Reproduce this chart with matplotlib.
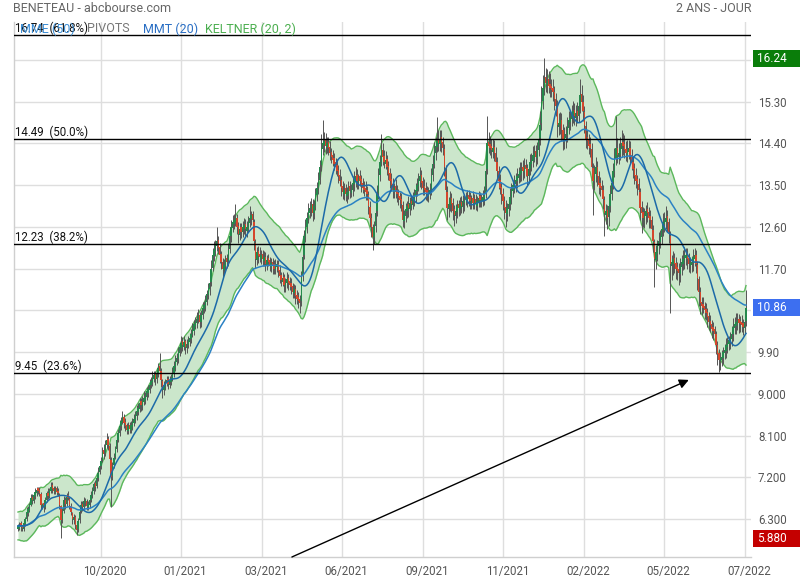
import numpy as np
import pandas as pd
import matplotlib
matplotlib.use("Agg")
import matplotlib.pyplot as plt
from matplotlib.patches import Rectangle
from matplotlib.transforms import blended_transform_factory, ScaledTranslation

plt.rcParams['font.family'] = ['Roboto', 'DejaVu Sans']

# ---------------- data ----------------
title = "BENETEAU - abcbourse.com"
period_label = "2 ANS - JOUR"

closes = [
    6.15, 6.18, 6.12, 6.10, 6.22, 6.30, 6.45, 6.52, 6.60, 6.75,
    6.70, 6.82, 6.88, 6.93, 6.90, 6.85, 6.60, 6.62, 6.56, 6.70,
    6.85, 6.80, 6.92, 7.00, 6.95, 6.90, 6.94, 6.88, 6.85, 6.60,
    6.28, 6.45, 6.70, 6.62, 6.78, 6.75, 6.60, 6.45, 6.30, 6.35,
    6.18, 6.06, 6.25, 6.45, 6.60, 6.55, 6.68, 6.70, 6.58, 6.62,
    6.70, 6.82, 6.90, 7.05, 7.00, 7.18, 7.30, 7.45, 7.55, 7.75,
    7.70, 7.90, 8.00, 7.90, 7.60, 7.20, 7.45, 7.62, 7.80, 8.00,
    8.15, 8.30, 8.42, 8.50, 8.38, 8.30, 8.22, 8.30, 8.25, 8.32,
    8.40, 8.45, 8.55, 8.62, 8.70, 8.80, 8.75, 8.85, 8.90, 8.95,
    9.05, 9.10, 9.20, 9.28, 9.35, 9.40, 9.32, 9.45, 9.55, 9.50,
    9.30, 9.10, 9.18, 9.25, 9.30, 9.22, 9.28, 9.35, 9.45, 9.60,
    9.70, 9.78, 9.90, 10.00, 10.10, 10.05, 10.12, 10.00, 10.08, 10.15,
    10.20, 10.30, 10.38, 10.50, 10.55, 10.62, 10.70, 10.55, 10.70, 10.85,
    10.92, 11.00, 11.15, 11.28, 11.40, 11.70, 12.00, 12.10, 12.20, 12.30,
    12.15, 12.00, 11.85, 11.70, 11.78, 11.90, 11.85, 12.10, 12.40, 12.60,
    12.70, 12.75, 12.80, 12.60, 12.45, 12.55, 12.50, 12.60, 12.65, 12.55,
    12.60, 12.70, 12.80, 12.85, 12.75, 12.30, 11.90, 12.05, 11.98, 11.95,
    12.00, 11.90, 11.95, 11.80, 11.88, 11.85, 11.78, 11.82, 11.75, 11.70,
    11.78, 11.80, 11.65, 11.55, 11.45, 11.50, 11.35, 11.40, 11.48, 11.38,
    11.35, 11.30, 11.20, 11.25, 11.10, 11.05, 11.00, 10.95, 11.50, 11.95,
    12.40, 12.60, 12.80, 12.95, 13.00, 13.10, 12.90, 13.05, 13.30, 13.45,
    13.60, 13.90, 14.30, 14.40, 14.45, 14.35, 14.42, 14.30, 14.20, 14.10,
    14.05, 13.95, 13.90, 13.80, 13.70, 13.60, 13.45, 13.35, 13.40, 13.30,
    13.35, 13.45, 13.38, 13.40, 13.55, 13.62, 13.70, 13.60, 13.65, 13.60,
    13.50, 13.45, 13.40, 13.35, 13.30, 13.05, 12.80, 12.60, 12.38, 12.60,
    12.90, 13.30, 13.70, 14.00, 14.25, 14.10, 14.00, 14.05, 13.90, 13.75,
    13.60, 13.50, 13.40, 13.45, 13.35, 13.30, 13.22, 13.18, 13.10, 12.75,
    12.85, 12.98, 13.05, 13.00, 13.12, 13.10, 13.20, 13.30, 13.40, 13.50,
    13.62, 13.70, 13.55, 13.45, 13.40, 13.35, 13.30, 13.35, 13.40, 13.70,
    13.95, 14.20, 14.35, 14.45, 14.40, 14.50, 14.40, 14.30, 13.90, 13.40,
    13.00, 13.10, 13.20, 13.10, 12.95, 12.85, 12.95, 13.05, 13.00, 13.10,
    13.05, 13.15, 13.20, 13.18, 13.25, 13.20, 13.15, 13.20, 13.12, 13.18,
    13.10, 13.15, 13.22, 13.18, 13.20, 13.25, 13.30, 13.80, 14.40, 14.35,
    14.30, 14.25, 14.30, 14.20, 14.00, 13.80, 13.60, 13.45, 13.30, 13.15,
    13.00, 12.90, 13.00, 13.10, 13.25, 13.40, 13.50, 13.55, 13.62, 13.70,
    13.75, 13.80, 13.85, 13.80, 13.90, 13.85, 13.70, 13.85, 14.00, 14.05,
    14.15, 14.20, 14.10, 14.25, 14.50, 14.80, 15.30, 15.60, 15.80, 15.70,
    15.75, 15.65, 15.60, 15.55, 15.50, 15.35, 15.20, 14.80, 14.85, 14.90,
    14.70, 14.50, 14.55, 14.60, 14.75, 14.90, 14.95, 15.05, 15.10, 15.00,
    15.05, 15.00, 15.20, 15.45, 15.30, 15.10, 14.80, 14.50, 14.45, 14.35,
    14.30, 13.90, 13.60, 13.75, 13.90, 13.70, 13.50, 13.45, 13.40, 13.20,
    12.90, 12.95, 12.80, 13.05, 13.30, 13.55, 13.80, 14.05, 14.30, 14.15,
    14.20, 14.30, 14.40, 14.35, 14.25, 14.20, 14.25, 14.30, 14.15, 14.00,
    13.85, 13.70, 13.60, 13.50, 13.40, 13.00, 12.90, 12.80, 12.85, 12.95,
    12.90, 12.80, 12.75, 12.55, 12.30, 11.90, 12.05, 12.20, 12.30, 12.40,
    12.55, 12.70, 12.75, 12.80, 12.70, 12.50, 11.80, 11.85, 11.90, 11.80,
    11.70, 11.65, 11.60, 11.75, 11.85, 11.90, 12.00, 12.00, 11.90, 11.80,
    11.82, 11.85, 11.95, 12.00, 11.80, 11.50, 11.20, 10.95, 10.90, 10.85,
    10.80, 10.75, 10.65, 10.55, 10.48, 10.40, 10.35, 10.30, 10.05, 9.85,
    9.73, 9.78, 9.80, 9.90, 9.95, 10.05, 10.10, 10.15, 10.20, 10.30,
    10.45, 10.50, 10.55, 10.60, 10.52, 10.50, 10.48, 10.45, 10.55, 10.86,
]
# candle body = close - open, in cents (positive: green candle, negative: red)
body_cents = [
    6, 8, -9, -5, 14, 10, 16, 9, 11, 15,
    -8, 13, 9, 7, -6, -8, -24, 5, -9, 14,
    14, -7, 12, 10, -8, -7, 6, -8, -6, -22,
    -30, 16, 22, -10, 15, -6, -14, -14, -13, 8,
    -16, -10, 17, 18, 13, -8, 12, 5, -11, 7,
    10, 12, 9, 14, -8, 16, 12, 14, 10, 18,
    -9, 18, 11, -12, -28, -38, 22, 15, 16, 18,
    14, 15, 12, 10, -13, -10, -10, 10, -8, 9,
    11, 8, 12, 9, 10, 12, -9, 12, 8, 9,
    12, 8, 12, 10, 9, 8, -11, 14, 12, -9,
    -19, -18, 10, 9, 7, -10, 8, 9, 12, 15,
    12, 10, 14, 12, 12, -9, 10, -13, 10, 9,
    8, 12, 10, 14, 8, 10, 11, -16, 15, 16,
    10, 11, 16, 14, 14, 28, 28, 12, 12, 12,
    -17, -16, -16, -15, 10, 14, -8, 24, 28, 20,
    12, 8, 9, -20, -16, 12, -9, 12, 9, -12,
    9, 12, 12, 8, -12, -40, -36, 16, -10, -7,
    9, -12, 9, -16, 10, -7, -10, 8, -10, -9,
    10, 6, -16, -12, -12, 8, -16, 8, 10, -12,
    -8, -9, -12, 8, -16, -9, -9, -10, 50, 40,
    40, 20, 20, 16, 9, 12, -20, 15, 24, 16,
    16, 28, 36, 12, 9, -13, 10, -14, -13, -12,
    -10, -13, -9, -13, -13, -12, -17, -13, 9, -13,
    9, 13, -10, 6, 16, 10, 11, -13, 9, -9,
    -13, -9, -9, -9, -9, -24, -24, -20, -22, 22,
    28, 36, 36, 28, 24, -16, -13, 9, -16, -16,
    -16, -13, -13, 9, -13, -9, -11, -8, -11, -32,
    13, 15, 10, -9, 14, -6, 12, 12, 13, 12,
    14, 11, -16, -13, -9, -9, -9, 9, 9, 28,
    24, 24, 16, 12, -9, 12, -13, -13, -38, -46,
    -36, 12, 12, -13, -16, -13, 12, 12, -9, 12,
    -9, 12, 9, -6, 10, -9, -9, 9, -11, 9,
    -11, 9, 10, -8, 6, 9, 9, 46, 55, -9,
    -9, -9, 9, -13, -20, -20, -20, -16, -16, -16,
    -16, -13, 12, 12, 16, 16, 12, 9, 10, 11,
    9, 9, 9, -9, 12, -9, -16, 16, 16, 9,
    12, 9, -13, 16, 24, 28, 46, 28, 20, -13,
    9, -13, -9, -9, -9, -16, -16, -38, 9, 9,
    -20, -20, 9, 9, 16, 16, 9, 12, 9, -13,
    9, -9, 20, 24, -16, -20, -28, -28, -9, -13,
    -9, -38, -28, 16, 16, -20, -20, -9, -9, -20,
    -28, 9, -16, 24, 24, 24, 24, 24, 24, -16,
    9, 12, 12, -9, -13, -9, 9, 9, -16, -16,
    -16, -16, -13, -13, -13, -36, -13, -13, 9, 12,
    -9, -13, -9, -20, -24, -38, 16, 16, 12, 12,
    16, 16, 9, 9, -13, -20, -60, 9, 9, -13,
    -13, -9, -9, 16, 12, 9, 12, 6, -13, -13,
    6, 8, 12, 9, -20, -28, -28, -24, -9, -9,
    -9, -9, -12, -12, -10, -11, -9, -9, -24, -20,
    -14, 8, 6, 12, 8, 12, 8, 8, 8, 12,
    15, 8, 8, 8, -10, -6, -6, -7, 12, 30,
]
# wick lengths above max(open, close) and below min(open, close), in cents
upper_wick_cents = [
    4, 6, 5, 3, 8, 5, 10, 6, 4, 8,
    5, 7, 9, 6, 4, 6, 5, 3, 4, 8,
    6, 9, 5, 10, 6, 4, 7, 5, 6, 4,
    3, 8, 9, 5, 7, 10, 4, 5, 3, 6,
    4, 5, 7, 6, 8, 5, 9, 6, 4, 7,
    6, 8, 10, 5, 7, 9, 12, 6, 8, 10,
    12, 10, 15, 8, 6, 5, 8, 10, 7, 12,
    10, 14, 9, 12, 6, 8, 5, 9, 7, 10,
    8, 12, 9, 14, 10, 12, 8, 11, 15, 9,
    10, 8, 12, 9, 14, 10, 6, 11, 12, 29,
    6, 5, 10, 8, 9, 6, 10, 8, 12, 10,
    14, 9, 12, 10, 15, 8, 12, 6, 10, 9,
    12, 10, 14, 9, 11, 15, 12, 5, 10, 12,
    9, 14, 10, 12, 15, 18, 14, 20, 12, 30,
    8, 10, 6, 9, 12, 10, 8, 15, 18, 14,
    16, 12, 30, 8, 10, 14, 9, 12, 15, 10,
    12, 14, 25, 10, 8, 6, 9, 12, 10, 14,
    10, 8, 12, 9, 11, 10, 8, 12, 9, 10,
    12, 9, 8, 10, 6, 12, 8, 10, 14, 9,
    8, 10, 7, 12, 8, 9, 10, 8, 15, 20,
    14, 18, 12, 16, 15, 12, 10, 14, 15, 12,
    18, 15, 30, 50, 20, 15, 12, 10, 12, 8,
    10, 12, 9, 14, 10, 12, 8, 10, 15, 9,
    12, 14, 10, 12, 15, 18, 20, 12, 10, 14,
    10, 12, 9, 14, 10, 8, 12, 10, 6, 12,
    15, 20, 18, 16, 35, 14, 12, 18, 10, 12,
    10, 14, 12, 10, 16, 12, 8, 10, 12, 9,
    12, 14, 10, 18, 12, 10, 15, 12, 14, 16,
    14, 20, 12, 10, 14, 12, 10, 12, 15, 18,
    20, 24, 18, 52, 20, 18, 15, 12, 10, 8,
    12, 15, 18, 10, 12, 9, 14, 12, 10, 15,
    12, 14, 10, 12, 15, 10, 12, 9, 14, 12,
    10, 12, 15, 10, 12, 14, 18, 20, 60, 20,
    18, 15, 20, 14, 12, 10, 12, 14, 10, 12,
    10, 15, 12, 14, 18, 15, 12, 16, 14, 18,
    15, 20, 14, 16, 18, 12, 10, 14, 18, 15,
    20, 16, 14, 18, 25, 30, 35, 28, 44, 20,
    25, 18, 22, 15, 20, 14, 12, 15, 20, 18,
    15, 12, 20, 18, 22, 20, 16, 18, 22, 15,
    18, 20, 24, 35, 20, 15, 12, 10, 14, 12,
    15, 12, 10, 18, 20, 12, 10, 14, 12, 10,
    8, 14, 12, 18, 20, 22, 18, 25, 70, 20,
    22, 25, 30, 18, 20, 16, 22, 18, 14, 12,
    10, 12, 14, 10, 12, 8, 12, 10, 15, 12,
    14, 10, 12, 8, 10, 6, 15, 12, 18, 14,
    16, 20, 18, 25, 14, 10, 12, 15, 18, 10,
    12, 10, 14, 18, 15, 20, 16, 14, 12, 10,
    14, 12, 18, 15, 10, 8, 6, 12, 10, 14,
    10, 12, 8, 10, 12, 9, 10, 8, 6, 8,
    10, 12, 14, 10, 12, 15, 12, 10, 14, 16,
    18, 15, 20, 14, 10, 12, 15, 10, 18, 38,
]
lower_wick_cents = [
    5, 4, 8, 6, 3, 5, 4, 6, 5, 3,
    8, 4, 5, 6, 7, 5, 8, 6, 10, 4,
    5, 6, 4, 5, 8, 6, 4, 7, 5, 8,
    40, 8, 5, 10, 6, 4, 8, 6, 10, 7,
    9, 11, 6, 5, 4, 8, 5, 6, 9, 5,
    6, 4, 5, 8, 10, 5, 6, 4, 7, 5,
    10, 6, 5, 12, 10, 65, 8, 6, 5, 7,
    6, 5, 8, 6, 12, 10, 8, 6, 10, 7,
    8, 6, 5, 9, 6, 8, 12, 7, 6, 8,
    6, 8, 7, 5, 9, 6, 12, 8, 6, 10,
    15, 20, 10, 8, 6, 12, 8, 7, 6, 9,
    8, 6, 10, 7, 9, 12, 8, 14, 10, 7,
    9, 8, 6, 10, 8, 9, 7, 14, 10, 8,
    8, 10, 7, 9, 12, 10, 8, 12, 10, 9,
    14, 18, 16, 20, 12, 10, 14, 10, 8, 12,
    10, 12, 8, 16, 20, 12, 14, 10, 12, 15,
    12, 10, 8, 12, 14, 20, 18, 12, 15, 10,
    12, 14, 10, 15, 12, 10, 14, 12, 16, 12,
    10, 12, 14, 16, 12, 10, 15, 12, 10, 14,
    12, 15, 14, 10, 16, 12, 14, 21, 10, 12,
    10, 12, 14, 10, 12, 15, 18, 12, 10, 14,
    12, 10, 14, 12, 15, 18, 12, 14, 16, 12,
    14, 12, 15, 10, 16, 12, 18, 14, 12, 15,
    14, 12, 16, 10, 12, 14, 12, 18, 14, 12,
    15, 12, 14, 16, 12, 18, 20, 22, 28, 14,
    12, 10, 14, 12, 10, 16, 14, 12, 18, 14,
    16, 12, 18, 14, 12, 16, 14, 18, 15, 15,
    14, 12, 16, 18, 12, 14, 10, 12, 14, 12,
    10, 12, 14, 16, 12, 18, 14, 12, 10, 14,
    12, 10, 14, 12, 16, 14, 18, 15, 20, 24,
    25, 16, 14, 18, 20, 22, 15, 14, 16, 12,
    14, 12, 16, 10, 12, 14, 16, 12, 14, 10,
    14, 12, 10, 15, 12, 10, 14, 12, 10, 16,
    14, 16, 12, 18, 14, 16, 18, 15, 20, 18,
    22, 30, 16, 14, 12, 15, 14, 12, 16, 14,
    12, 14, 16, 18, 12, 15, 20, 14, 12, 16,
    14, 12, 18, 14, 12, 15, 14, 18, 16, 20,
    18, 16, 20, 15, 18, 22, 20, 25, 18, 20,
    22, 25, 18, 20, 16, 14, 18, 15, 16, 20,
    18, 16, 14, 15, 20, 22, 18, 20, 16, 18,
    20, 25, 75, 20, 18, 22, 20, 18, 16, 22,
    50, 20, 25, 18, 14, 12, 15, 14, 12, 18,
    16, 14, 18, 20, 16, 18, 15, 14, 20, 18,
    20, 18, 16, 22, 20, 25, 43, 20, 18, 16,
    20, 22, 18, 20, 25, 60, 20, 18, 16, 14,
    16, 14, 18, 16, 20, 25, 106, 30, 25, 20,
    22, 20, 25, 18, 16, 14, 18, 16, 20, 18,
    16, 14, 18, 16, 20, 25, 30, 22, 20, 11,
    18, 15, 20, 18, 15, 20, 18, 16, 20, 22,
    26, 18, 15, 14, 12, 16, 14, 12, 15, 14,
    16, 14, 18, 15, 20, 16, 14, 18, 12, 10,
]

fib_levels = [16.74, 14.49, 12.23, 9.45]
fib_pcts = ["61.8%", "50.0%", "38.2%", "23.6%"]

x_tick_labels = ["10/2020", "01/2021", "03/2021", "06/2021", "09/2021",
                 "11/2021", "02/2022", "05/2022", "07/2022"]
y_tick_values = [6.3, 7.2, 8.1, 9.0, 9.9, 10.8, 11.7, 12.6, 13.5, 14.4, 15.3, 16.2]
y_tick_labels = ["6.300", "7.200", "8.100", "9.000", "9.90", "", "11.70",
                 "12.60", "13.50", "14.40", "15.30", ""]

legend_items = [("MME (50)", "#3d8fd6"), ("PIVOTS", "#777777"),
                ("MMT (20)", "#2a6fc4"), ("KELTNER (20, 2)", "#4caf50")]

# trend arrow drawn on the chart (data coords: candle index, price)
arrow_start = (191.5, 5.48)
arrow_end = (469.0, 9.30)

# ---------------- computations ----------------
n = min(len(closes), len(body_cents), len(upper_wick_cents), len(lower_wick_cents))
c = np.array(closes[:n], dtype=float)
o = c - np.array(body_cents[:n]) / 100.0
h = np.maximum(o, c) + np.array(upper_wick_cents[:n]) / 100.0
l = np.minimum(o, c) - np.array(lower_wick_cents[:n]) / 100.0
x = np.arange(n)

cs = pd.Series(c)
prev_c = pd.Series(np.concatenate([[o[0]], c[:-1]]))
tr = np.maximum(h - l, np.maximum(np.abs(h - prev_c), np.abs(l - prev_c)))
ema20 = cs.ewm(span=20, adjust=False).mean()
atr20 = pd.Series(tr).ewm(span=20, adjust=False).mean()
kc_up = ema20 + 2 * atr20
kc_lo = ema20 - 2 * atr20
mme50 = cs.ewm(span=50, adjust=False).mean()
mmt20 = cs.rolling(10, min_periods=1).mean().rolling(11, min_periods=1).mean()

# ---------------- figure ----------------
W, H = 800, 580
fig = plt.figure(figsize=(W / 100, H / 100), dpi=100)
ax_l, ax_r, ax_t, ax_b = 14, 751, 22, 557
ax = fig.add_axes([ax_l / W, 1 - ax_b / H, (ax_r - ax_l) / W, (ax_b - ax_t) / H])

px_per_idx = 728 / 509.0
ax.set_xlim(-(18 - ax_l) / px_per_idx, (ax_r - 18) / px_per_idx)
ax.set_ylim(5.48, 17.02)

# keltner
ax.fill_between(x, kc_lo, kc_up, color="#cbe6cb", zorder=1, lw=0)
ax.plot(x, kc_up, color="#5cb85c", lw=1.0, zorder=1.5)
ax.plot(x, kc_lo, color="#5cb85c", lw=1.0, zorder=1.5)

# candles
up = c >= o
ax.vlines(x, l, h, color="#555555", lw=0.7, zorder=2)
body_h = np.where(np.abs(c - o) < 0.015, 0.015, np.abs(c - o))
ax.bar(x[up], body_h[up], bottom=np.minimum(o, c)[up], width=0.95,
       color="#24894c", lw=0, zorder=3)
ax.bar(x[~up], body_h[~up], bottom=np.minimum(o, c)[~up], width=0.95,
       color="#d4472c", lw=0, zorder=3)

# moving averages
ax.plot(x, mme50, color="#2b82c4", lw=1.1, zorder=4)
ax.plot(x, mmt20, color="#1c6aa8", lw=1.1, zorder=4)

# fibonacci levels
for lev, pct in zip(fib_levels, fib_pcts):
    ax.axhline(lev, color="black", lw=1.0, zorder=5)
    ax.text(1 / (ax_r - ax_l), lev, f"{lev:.2f}  ({pct})", transform=ax.get_yaxis_transform(),
            ha="left", va="bottom", fontsize=8.3, color="#111111", zorder=6)

# arrow
ax.annotate("", xy=arrow_end, xytext=arrow_start,
            arrowprops=dict(arrowstyle="-|>", color="black", lw=1.0, mutation_scale=14,
                            shrinkA=0, shrinkB=0), zorder=6, annotation_clip=False)

# axes styling
tick_pos = 57.7 + 56.32 * np.arange(len(x_tick_labels))
ax.set_xticks(tick_pos)
ax.set_xticklabels(x_tick_labels)
ax.set_yticks(y_tick_values)
ax.set_yticklabels(y_tick_labels)
ax.yaxis.tick_right()
ax.tick_params(axis="both", length=0, labelsize=8.3, labelcolor="#555555")
ax.tick_params(axis="y", pad=5)
ax.tick_params(axis="x", pad=6)
for lab in ax.get_xticklabels():
    lab.set_transform(lab.get_transform() + ScaledTranslation(4 / 100, 0, fig.dpi_scale_trans))
ax.grid(True, color="#dedede", lw=1.0)
ax.set_axisbelow(True)
for s in ["top", "right"]:
    ax.spines[s].set_visible(False)
for s in ["left", "bottom"]:
    ax.spines[s].set_color("#cfcfcf")
    ax.spines[s].set_linewidth(1.0)

# header texts
fig.text(13 / W, 1 - 9 / H, title, ha="left", va="center", fontsize=9, color="#666666")
fig.text(752 / W, 1 - 9 / H, period_label, ha="right", va="center", fontsize=9, color="#666666")
lx = [20, 87, 143, 205]
for (txt, col), xx in zip(legend_items, lx):
    fig.text(xx / W, 1 - 29 / H, txt, ha="left", va="center", fontsize=9, color=col)

# right-side value boxes
bt = blended_transform_factory(fig.transFigure, ax.transData)
box_h = 17 / 46.36
hi_val, last_val, lo_val = h.max(), c[-1], l.min()
for val, txt, col in [(hi_val, f"{hi_val:.2f}", "#0a7d0a"),
                      (last_val, f"{last_val:.2f}", "#3d6ff0"),
                      (lo_val, f"{lo_val:.3f}", "#c40000")]:
    fig.patches.append(Rectangle((753 / W, val - box_h / 2), (W - 753) / W, box_h,
                                 transform=bt, facecolor=col, edgecolor="none", zorder=10))
    fig.text(757 / W, val, txt, transform=bt, ha="left", va="center",
             fontsize=8.5, color="white", zorder=11)

fig.savefig("out.png", dpi=100)
